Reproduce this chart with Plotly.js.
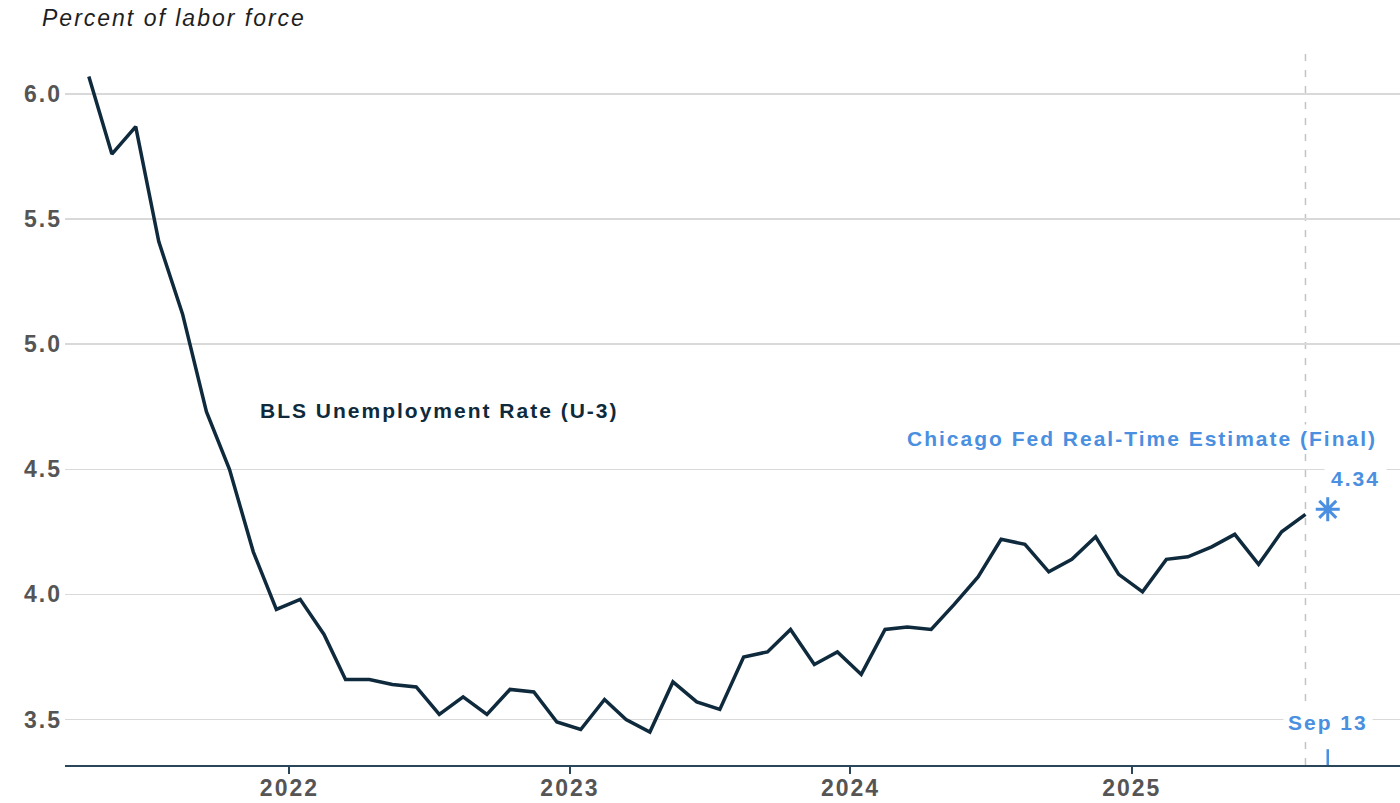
<!DOCTYPE html>
<html><head><meta charset="utf-8">
<script src="https://cdn.plot.ly/plotly-3.0.1.min.js"></script>
<style>
html,body{margin:0;padding:0;background:#fff;}
#chart{width:1400px;height:803px;}
text{letter-spacing:2px;}
</style></head><body><div id="chart"></div>
<script>
const months = [
  '2021-04-15','2021-05-15','2021-06-15','2021-07-15','2021-08-15','2021-09-15','2021-10-15','2021-11-15','2021-12-15',
  '2022-01-15','2022-02-15','2022-03-15','2022-04-15','2022-05-15','2022-06-15','2022-07-15','2022-08-15','2022-09-15','2022-10-15','2022-11-15','2022-12-15',
  '2023-01-15','2023-02-15','2023-03-15','2023-04-15','2023-05-15','2023-06-15','2023-07-15','2023-08-15','2023-09-15','2023-10-15','2023-11-15','2023-12-15',
  '2024-01-15','2024-02-15','2024-03-15','2024-04-15','2024-05-15','2024-06-15','2024-07-15','2024-08-15','2024-09-15','2024-10-15','2024-11-15','2024-12-15',
  '2025-01-15','2025-02-15','2025-03-15','2025-04-15','2025-05-15','2025-06-15','2025-07-15','2025-08-15'
];
const unemploymentRate = [
  6.07, 5.76, 5.87, 5.41, 5.12, 4.73, 4.50, 4.17, 3.94,
  3.98, 3.84, 3.66, 3.66, 3.64, 3.63, 3.52, 3.59, 3.52, 3.62, 3.61, 3.49,
  3.46, 3.58, 3.50, 3.45, 3.65, 3.57, 3.54, 3.75, 3.77, 3.86, 3.72, 3.77,
  3.68, 3.86, 3.87, 3.86, 3.96, 4.07, 4.22, 4.20, 4.09, 4.14, 4.23, 4.08,
  4.01, 4.14, 4.15, 4.19, 4.24, 4.12, 4.25, 4.32
];
const yearTickVals = ['2022-01-01','2023-01-01','2024-01-01','2025-01-01'];
const yearTickText = ['2022','2023','2024','2025'];
const yTickVals = [3.5, 4.0, 4.5, 5.0, 5.5, 6.0];
const estimateDate = ['2025-09-13'];
const estimateValue = [4.34];
const estimateDateLabel = ['Sep 13'];
const seriesLabel = 'BLS Unemployment Rate (U-3)';
const estimateLabel = 'Chicago Fed Real-Time Estimate (Final)';

const FONT = '"Liberation Sans", Arial, sans-serif';
const NAVY = '#0e2a3c';
const BLUE = '#4a8fe0';
const lastDate = months[months.length - 1];

const traces = [
  {x: months, y: unemploymentRate, type: 'scatter', mode: 'lines',
   line: {color: NAVY, width: 3.5}, hoverinfo: 'skip'},
  {x: estimateDate, y: estimateValue, type: 'scatter', mode: 'markers',
   marker: {symbol: 'asterisk-open', size: 20, color: BLUE, line: {color: BLUE, width: 3}}, hoverinfo: 'skip'}
];

const layout = {
  width: 1400, height: 803,
  margin: {l: 65, r: 0, t: 48, b: 38},
  paper_bgcolor: '#fff', plot_bgcolor: '#fff',
  showlegend: false,
  title: {text: 'Percent of labor force', xref: 'container', yref: 'container',
          x: 42/1400, xanchor: 'left', y: 1 - 18/803, yanchor: 'middle',
          font: {family: FONT, size: 23, color: '#1e1e1e', style: 'italic'}},
  xaxis: {type: 'date', range: ['2021-03-15', '2025-12-16'],
          tickmode: 'array', tickvals: yearTickVals, ticktext: yearTickText,
          ticks: 'outside', ticklen: 7, tickwidth: 2, tickcolor: '#2b4659',
          ticklabelstandoff: -6,
          showgrid: false, zeroline: false, showline: true, linecolor: '#2b4659', linewidth: 2,
          tickfont: {family: FONT, size: 23, color: '#555', weight: 700}},
  yaxis: {range: [3.318, 6.184], tickmode: 'array', tickvals: yTickVals, tickformat: '.1f',
          showgrid: true, gridcolor: '#d9d9d9', gridwidth: 1.5, zeroline: false, showline: false,
          ticks: '', ticklabelstandoff: 2,
          tickfont: {family: FONT, size: 23, color: '#555', weight: 700}},
  shapes: [
    {type: 'line', xref: 'x', yref: 'paper', x0: lastDate, x1: lastDate, y0: 0, y1: 1,
     line: {color: '#c4c4c4', width: 1.5, dash: '7px,9px'}, layer: 'below'},
    {type: 'line', xref: 'x', yref: 'paper', x0: estimateDate[0], x1: estimateDate[0], y0: 0, y1: 0.022,
     line: {color: BLUE, width: 2.5}}
  ],
  annotations: [
    {text: seriesLabel, xref: 'paper', yref: 'paper', x: 0.2805, y: 0.495, showarrow: false,
     xanchor: 'center', yanchor: 'middle',
     font: {family: FONT, size: 21, color: NAVY, weight: 700}},
    {text: estimateLabel, xref: 'paper', yref: 'paper', x: 0.8067, y: 0.456, showarrow: false,
     xanchor: 'center', yanchor: 'middle', bgcolor: '#fff', borderpad: 2,
     font: {family: FONT, size: 21, color: BLUE, weight: 700}},
    {text: estimateValue[0].toFixed(2), xref: 'x', yref: 'y', x: estimateDate[0], y: estimateValue[0],
     xanchor: 'left', yanchor: 'middle', xshift: -4, yshift: 31, showarrow: false,
     bgcolor: '#fff', borderpad: 6,
     font: {family: FONT, size: 21, color: BLUE, weight: 700}},
    {text: estimateDateLabel[0], xref: 'x', yref: 'paper', x: estimateDate[0], y: 0.0586,
     xanchor: 'center', yanchor: 'middle', showarrow: false, bgcolor: '#fff', borderpad: 4,
     font: {family: FONT, size: 21, color: BLUE, weight: 700}}
  ]
};

Plotly.newPlot('chart', traces, layout, {staticPlot: true, displayModeBar: false});
</script></body></html>
